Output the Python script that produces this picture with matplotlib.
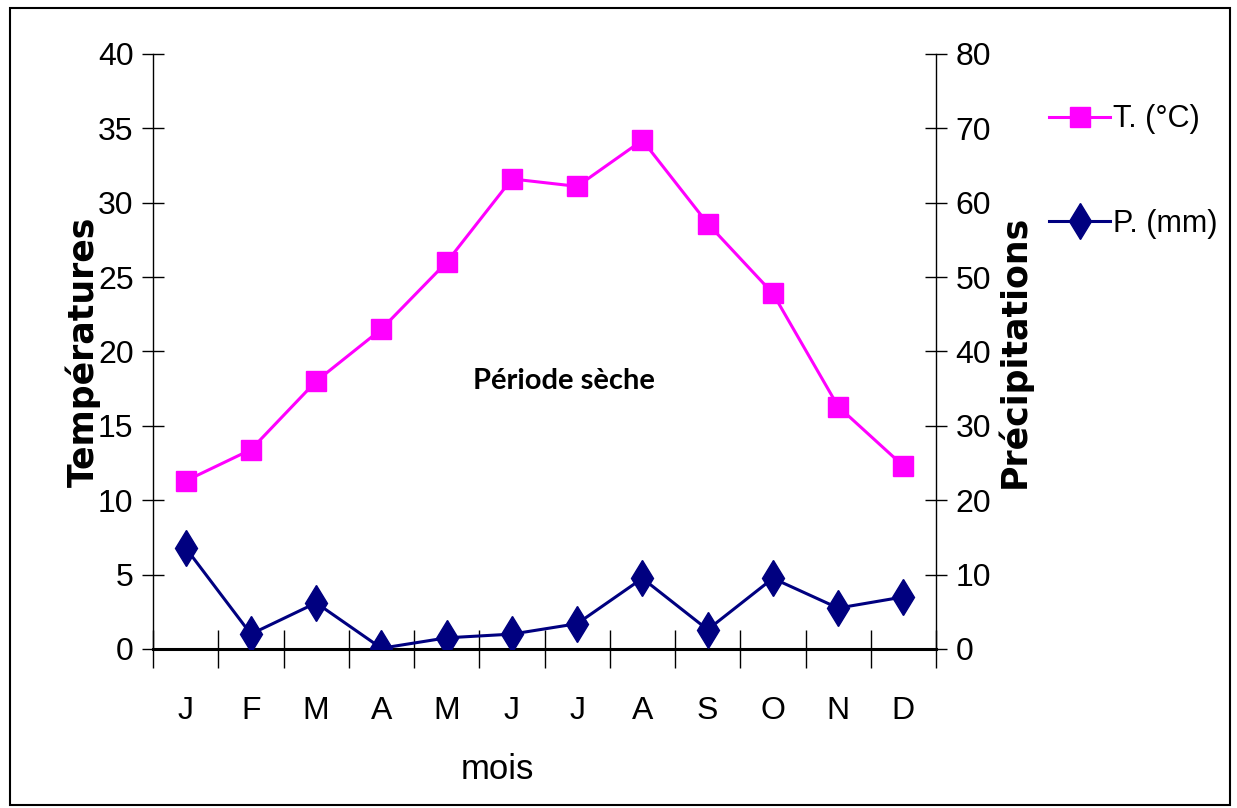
import numpy as np
import matplotlib
matplotlib.use('Agg')
import matplotlib.pyplot as plt
from matplotlib.patches import Rectangle
from matplotlib.ticker import MultipleLocator, FixedLocator

months = ['J', 'F', 'M', 'A', 'M', 'J', 'J', 'A', 'S', 'O', 'N', 'D']
temp = [11.3, 13.4, 18.0, 21.5, 26.0, 31.6, 31.1, 34.2, 28.6, 23.9, 16.3, 12.3]
precip = [13.6, 2.0, 6.2, 0.1, 1.5, 2.0, 3.4, 9.5, 2.6, 9.5, 5.5, 7.0]

plt.rcParams['font.family'] = ['Liberation Sans', 'DejaVu Sans']

fig = plt.figure(figsize=(12.37, 8.08), dpi=100)
ax = fig.add_axes([0.1237, 0.1968, 0.633, 0.7364])
ax2 = ax.twinx()

x = np.arange(len(months))
l1, = ax.plot(x, temp, color='#FF00FF', lw=2.2, marker='s', markersize=14,
              label='T. (°C)', zorder=3)
l2, = ax2.plot(x, precip, color='#000080', lw=2.2, marker='d', markersize=18,
               label='P. (mm)', zorder=3)

ax.set_xlim(-0.5, 11.5)
ax.set_ylim(0, 40)
ax2.set_ylim(0, 80)

for a in (ax, ax2):
    a.spines['top'].set_visible(False)
    a.spines['left'].set_linewidth(1.0)
    a.spines['right'].set_linewidth(1.0)
ax.spines['bottom'].set_linewidth(2.2)
ax2.spines['bottom'].set_visible(False)
ax.spines['right'].set_visible(False)
ax2.spines['left'].set_visible(False)

ax.yaxis.set_major_locator(MultipleLocator(5))
ax2.yaxis.set_major_locator(MultipleLocator(10))
ax.tick_params(axis='y', direction='inout', length=16, width=1, labelsize=23, pad=6)
ax2.tick_params(axis='y', direction='inout', length=16, width=1, labelsize=23, pad=6)

ax.set_xticks(x)
ax.set_xticklabels(months)
ax.xaxis.set_minor_locator(FixedLocator(np.arange(-0.5, 12, 1)))
ax.tick_params(axis='x', which='major', length=0, labelsize=23, pad=34)
ax.tick_params(axis='x', which='minor', direction='inout', length=28, width=1)

ax.set_xlabel('mois', fontsize=25)
ax.xaxis.set_label_coords(0.44, -0.175)
ax.set_ylabel('Températures', family='DejaVu Sans', fontsize=25,
              fontweight='bold', labelpad=-2)
ax2.set_ylabel('Précipitations', family='DejaVu Sans', fontsize=25,
               fontweight='bold', labelpad=4)

ax.text(5.8, 18.0, 'Période sèche', family=['Lato', 'DejaVu Sans'],
        fontweight='bold', fontsize=21, ha='center', va='center')

leg = fig.legend(handles=[l1, l2], loc='upper left', bbox_to_anchor=(0.826, 0.905),
                 frameon=False, prop={'size': 22},
                 labelspacing=2.45, handlelength=2.0, handletextpad=0.1)

fig.patches.append(Rectangle((0.008, 0.004), 0.986, 0.986, transform=fig.transFigure,
                             fill=False, edgecolor='black', lw=1.5))

fig.savefig('out.png', dpi=100)
